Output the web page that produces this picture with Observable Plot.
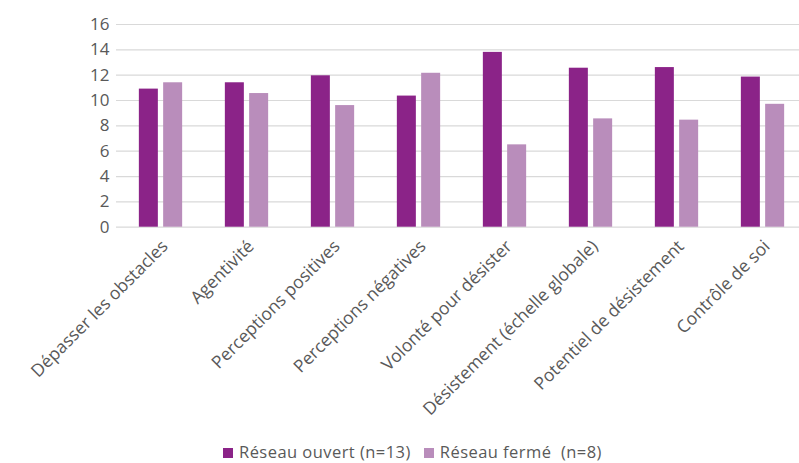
<!DOCTYPE html>
<html>
<head>
<meta charset="utf-8">
<script src="https://cdn.jsdelivr.net/npm/d3@7"></script>
<script src="https://cdn.jsdelivr.net/npm/@observablehq/plot@0.6"></script>
<style>
  html, body { margin: 0; padding: 0; background: #fff; overflow: hidden; }
  #chart { width: 799px; }
  #chart svg { display: block; }
  .legend { font-family: "Open Sans", sans-serif; font-size: 16.5px; letter-spacing: 0.45px; color: #595959; height: 23px; line-height: 23px; padding-left: 223px; white-space: nowrap; }
  .legend span.sw { display: inline-block; width: 10px; height: 10px; margin-right: 6px; vertical-align: 0px; }
  .legend span.item { margin-right: 13px; }
</style>
</head>
<body>
<div id="chart"></div>
<script>
const categories = [
  "Dépasser les obstacles",
  "Agentivité",
  "Perceptions positives",
  "Perceptions négatives",
  "Volonté pour désister",
  "Désistement (échelle globale)",
  "Potentiel de désistement",
  "Contrôle de soi"
];
const seriesNames = ["Réseau ouvert (n=13)", "Réseau fermé  (n=8)"];
const ouvert = [10.9, 11.4, 11.95, 10.35, 13.8, 12.55, 12.6, 11.85];
const ferme  = [11.4, 10.55, 9.6, 12.15, 6.5, 8.55, 8.45, 9.7];
const yTicks = [0, 2, 4, 6, 8, 10, 12, 14, 16];
const colors = ["#8b2388", "#b98dbb"];

const dataOuvert = categories.map((c, i) => ({category: c, value: ouvert[i]}));
const dataFerme = categories.map((c, i) => ({category: c, value: ferme[i]}));

const chart = Plot.plot({
  width: 799,
  height: 440,
  marginLeft: 116,
  marginRight: 0,
  marginTop: 24,
  marginBottom: 213,
  style: {fontFamily: "Open Sans, sans-serif", color: "#595959", background: "#fff"},
  x: {type: "band", domain: categories, range: [115, 809], paddingInner: 0.7775, paddingOuter: 0.3888, label: null},
  y: {domain: [0, 16], range: [226.7, 24], label: null},
  marks: [
    Plot.gridY(yTicks, {stroke: "#d9d9d9", strokeOpacity: 1, strokeWidth: 1.2}),
    Plot.barY(dataOuvert, {x: "category", y: "value", fill: colors[0], dx: -12.15}),
    Plot.barY(dataFerme, {x: "category", y: "value", fill: colors[1], dx: 12.15}),
    Plot.axisY(yTicks, {tickSize: 0, tickPadding: 7, fontSize: 17, fill: "#595959", label: null}),
    Plot.axisX({tickSize: 0, tickPadding: 10, dx: 4, dy: 6, tickRotate: -45, fontSize: 17.5, fill: "#595959", label: null})
  ]
});
document.getElementById("chart").appendChild(chart);

const legend = document.createElement("div");
legend.className = "legend";
seriesNames.forEach((name, i) => {
  const sw = document.createElement("span");
  sw.className = "sw";
  sw.style.background = colors[i];
  legend.appendChild(sw);
  const t = document.createElement("span");
  t.className = "item";
  t.textContent = name;
  t.style.whiteSpace = "pre";
  legend.appendChild(t);
});
document.getElementById("chart").appendChild(legend);
</script>
</body>
</html>
